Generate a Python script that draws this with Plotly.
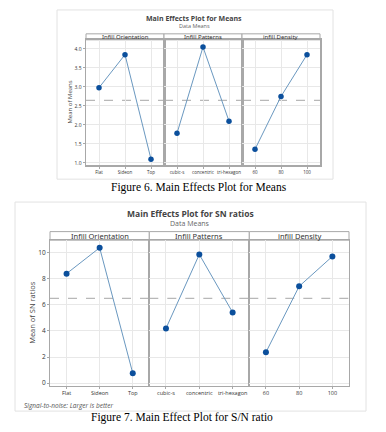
import plotly.graph_objects as go

# ---------------- data ----------------
factors = ["Infill Orientation", "Infill Patterns", "infill Density"]
levels_orientation = ["Flat", "Sideon", "Top"]
levels_pattern = ["cubic-s", "concentric", "tri-hexagon"]
levels_density = ["60", "80", "100"]
levels = [levels_orientation, levels_pattern, levels_density]

means_orientation = [2.98, 3.85, 1.10]
means_pattern = [1.78, 4.05, 2.10]
means_density = [1.36, 2.75, 3.85]
means_overall = 2.645
means_ticks = [1.0, 1.5, 2.0, 2.5, 3.0, 3.5, 4.0]

sn_orientation = [8.38, 10.36, 0.76]
sn_pattern = [4.19, 9.85, 5.41]
sn_density = [2.36, 7.41, 9.70]
sn_overall = 6.49
sn_ticks = [0, 2, 4, 6, 8, 10]

W, H = 386, 432
def X(px): return px / W
def Y(py): return 1 - py / H

fig = go.Figure()
layout = {}
shapes = []
annotations = []

LINE_C = "#6a98c0"
MARK_C = "#0b4f9c"
GRID_C = "#e8e8e8"
BOX_C = "#a8a8a8"
FONT = "Open Sans"
STRIP_FONT = "Noto Sans"

def build(idx0, values, ticks, overall, cfg):
    px = cfg["panel_x"]
    ydom = [Y(cfg["bottom"]), Y(cfg["top"])]
    for k in range(3):
        n = idx0 + k + 1
        xa = "xaxis" if n == 1 else f"xaxis{n}"
        ya = "yaxis" if n == 1 else f"yaxis{n}"
        xr = "x" if n == 1 else f"x{n}"
        yr = "y" if n == 1 else f"y{n}"
        fig.add_trace(go.Scatter(
            x=levels[k], y=values[k], mode="lines+markers",
            line=dict(color=LINE_C, width=1),
            marker=dict(color=MARK_C, size=cfg["msize"], symbol="circle"),
            xaxis=xr, yaxis=yr, showlegend=False, hoverinfo="skip"))
        layout[xa] = dict(domain=[X(px[k]), X(px[k + 1])], anchor=yr, type="category",
                          range=[-0.5, 2.5], showgrid=True, gridcolor=GRID_C, gridwidth=1,
                          showline=True, mirror=True, linecolor=BOX_C, linewidth=cfg["boxw"],
                          ticks="outside", ticklen=2, tickcolor=BOX_C, tickangle=0,
                          tickfont=dict(family=FONT, size=cfg["xtick"], color="#333"),
                          zeroline=False, fixedrange=True)
        layout[ya] = dict(domain=ydom, anchor=xr, range=cfg["yrange"], tickvals=ticks,
                          ticktext=[cfg["fmt"].format(t) for t in ticks],
                          showticklabels=(k == 0), showgrid=True, gridcolor=GRID_C,
                          showline=True, mirror=True, linecolor=BOX_C, linewidth=cfg["boxw"],
                          ticks="outside" if k == 0 else "", ticklen=2, tickcolor=BOX_C,
                          tickfont=dict(family=FONT, size=cfg["ytick"], color="#333"),
                          zeroline=False, fixedrange=True)
        # strip header
        shapes.append(dict(type="rect", xref="paper", yref="paper",
                           x0=X(px[k]), x1=X(px[k + 1]), y0=Y(cfg["top"]), y1=Y(cfg["strip_top"]),
                           line=dict(color=BOX_C, width=1), fillcolor="white", layer="below"))
        annotations.append(dict(text=factors[k], xref="paper", yref="paper",
                                x=(X(px[k]) + X(px[k + 1])) / 2,
                                y=(Y(cfg["top"]) + Y(cfg["strip_top"])) / 2,
                                showarrow=False, font=dict(family=STRIP_FONT, size=cfg["strip"], color="#333"),
                                xanchor="center", yanchor="middle"))
        # overall mean reference line
        shapes.append(dict(type="line", xref=xr + " domain", yref=yr, x0=0, x1=1,
                           y0=overall, y1=overall,
                           line=dict(color="#b8b8b8", width=1.2, dash="dash"), layer="below"))
    # frame
    f = cfg["frame"]
    shapes.append(dict(type="rect", xref="paper", yref="paper", x0=X(f[0]), x1=X(f[1]),
                       y0=Y(f[3]), y1=Y(f[2]), line=dict(color="#e2e2e2", width=1)))
    annotations.append(dict(text="<b>" + cfg["title"] + "</b>", xref="paper", yref="paper",
                            x=X(cfg["title_x"]), y=Y(cfg["title_y"]), showarrow=False,
                            font=dict(family=FONT, size=cfg["tsize"], color="#444"),
                            xanchor="center", yanchor="middle"))
    annotations.append(dict(text="Data Means", xref="paper", yref="paper",
                            x=X(cfg["title_x"]), y=Y(cfg["sub_y"]), showarrow=False,
                            font=dict(family=FONT, size=cfg["ssize"], color="#666"),
                            xanchor="center", yanchor="middle"))
    annotations.append(dict(text=cfg["ytitle"], xref="paper", yref="paper",
                            x=X(cfg["ytitle_x"]), y=(ydom[0] + ydom[1]) / 2, textangle=-90,
                            showarrow=False, font=dict(family=FONT, size=cfg["ytsize"], color="#444"),
                            xanchor="center", yanchor="middle"))
    annotations.append(dict(text=cfg["caption"], xref="paper", yref="paper",
                            x=X(cfg["cap_x"]), y=Y(cfg["cap_y"]), showarrow=False,
                            font=dict(family="Liberation Serif", size=cfg["capsize"], color="#000"),
                            xanchor="center", yanchor="middle"))

cfg1 = dict(panel_x=[86, 164, 242, 320], top=40, bottom=166, strip_top=34,
            yrange=[0.94, 4.24], fmt="{:.1f}", msize=5.5, xtick=4.5, ytick=5, strip=6,
            frame=[57, 333, 10, 180], title="Main Effects Plot for Means", title_x=194,
            title_y=19, sub_y=26.5, tsize=7, ssize=5.5, ytitle="Mean of Means", ytitle_x=70,
            ytsize=6, caption="Figure 6. Main Effects Plot for Means", cap_x=199, cap_y=188,
            capsize=11.5, boxw=1.5)
cfg2 = dict(panel_x=[50, 149.3, 249.3, 349], top=241.3, bottom=387.3, strip_top=232.7,
            yrange=[-0.18, 10.94], fmt="{:d}", msize=6, xtick=5.5, ytick=6.5, strip=7.5,
            frame=[15, 366, 203, 413], title="Main Effects Plot for SN ratios", title_x=190,
            title_y=214.5, sub_y=225, tsize=8.5, ssize=7, ytitle="Mean of SN ratios", ytitle_x=32,
            ytsize=7.5, caption="Figure 7. Main Effect Plot for S/N ratio", cap_x=182, cap_y=419.5,
            capsize=11.5, boxw=1)

build(0, [means_orientation, means_pattern, means_density], means_ticks, means_overall, cfg1)
build(3, [sn_orientation, sn_pattern, sn_density], sn_ticks, sn_overall, cfg2)

annotations.append(dict(text="<i>Signal-to-noise: Larger is better</i>", xref="paper", yref="paper",
                        x=X(22), y=Y(407), showarrow=False, xanchor="left", yanchor="middle",
                        font=dict(family=FONT, size=6.5, color="#555")))

fig.update_layout(width=W, height=H, margin=dict(l=0, r=0, t=0, b=0),
                  paper_bgcolor="white", plot_bgcolor="white", hovermode=False,
                  shapes=shapes, annotations=annotations, **layout)
fig.write_html("out.html", config={"displayModeBar": False, "staticPlot": True},
               post_script="document.body.style.margin='0';document.body.style.overflow='hidden';")
